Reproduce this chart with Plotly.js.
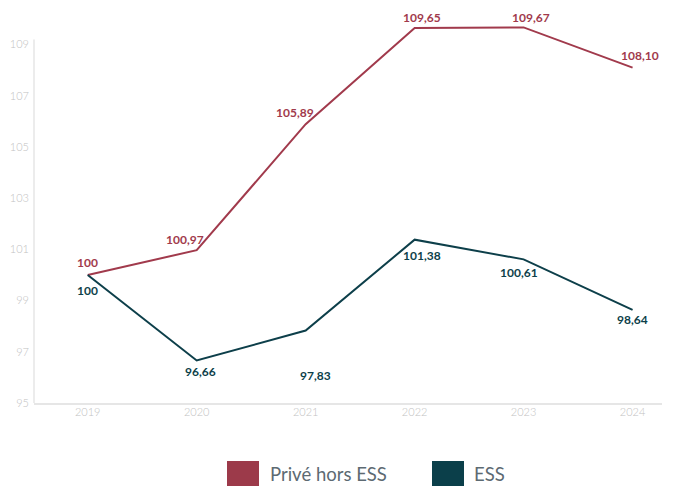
<!DOCTYPE html>
<html>
<head>
<meta charset="utf-8">
<script src="https://cdn.plot.ly/plotly-3.0.1.min.js"></script>
<style>html,body{margin:0;padding:0;background:#fff;}#chart{width:678px;height:486px;}</style>
</head>
<body>
<div id="chart"></div>
<script>
const years = [2019, 2020, 2021, 2022, 2023, 2024];
const prive = [100, 100.97, 105.89, 109.65, 109.67, 108.10];
const ess = [100, 96.66, 97.83, 101.38, 100.61, 98.64];
const seriesNames = ['Privé hors ESS', 'ESS'];
const yTicks = [95, 97, 99, 101, 103, 105, 107, 109];

const RED = '#a13a4c';
const TEAL = '#0d3f4a';

// label offsets (pixels) — styling only
const priveShift = [[0, 12], [-12, 11], [-11, 12], [7, 10], [7, 10], [7, 12]];
const essShift = [[0, -16], [4, -11], [10, -45], [7, -16], [-5, -13], [0, -10]];

function fmt(v) {
  return v === 100 ? '100' : v.toFixed(2).replace('.', ',');
}

const traces = [
  {x: years, y: prive, name: seriesNames[0], type: 'scatter', mode: 'lines',
   line: {color: RED, width: 2}, showlegend: false, hoverinfo: 'x+y'},
  {x: years, y: ess, name: seriesNames[1], type: 'scatter', mode: 'lines',
   line: {color: TEAL, width: 2}, showlegend: false, hoverinfo: 'x+y'}
];

const annotations = [];
years.forEach((yr, i) => {
  annotations.push({x: yr, y: prive[i], xref: 'x', yref: 'y', text: fmt(prive[i]),
    showarrow: false, xshift: priveShift[i][0], yshift: priveShift[i][1],
    font: {family: 'Lato', size: 12, color: RED, weight: 700}});
  annotations.push({x: yr, y: ess[i], xref: 'x', yref: 'y', text: fmt(ess[i]),
    showarrow: false, xshift: essShift[i][0], yshift: essShift[i][1],
    font: {family: 'Lato', size: 12, color: TEAL, weight: 700}});
});

// manual legend
const W = 678, H = 486;
const legendItems = [
  {name: seriesNames[0], color: '#9c3a4a', x0: 227, textX: 268},
  {name: seriesNames[1], color: '#0b3f4a', x0: 432, textX: 472}
];
const shapes = [
  {type: 'line', xref: 'paper', yref: 'y', x0: 0, x1: 0, y0: 95, y1: 109.2,
   line: {color: '#d9d9d9', width: 1}}
];
const plotL = 34, plotR = 16, plotT = 20, plotB = 83;
const pw = W - plotL - plotR, ph = H - plotT - plotB;
function px2paperX(px) { return (px - plotL) / pw; }
function py2paperY(py) { return (H - plotB - py) / ph; }
legendItems.forEach(it => {
  shapes.push({type: 'rect', xref: 'paper', yref: 'paper',
    x0: px2paperX(it.x0), x1: px2paperX(it.x0 + 32),
    y0: py2paperY(486), y1: py2paperY(461),
    fillcolor: it.color, line: {width: 0}});
  annotations.push({xref: 'paper', yref: 'paper', x: px2paperX(it.textX), y: py2paperY(474),
    xanchor: 'left', yanchor: 'middle', showarrow: false, text: it.name,
    font: {family: 'Lato', size: 18.5, color: '#5d6a72'}});
});

const layout = {
  width: W, height: H,
  margin: {l: plotL, r: plotR, t: plotT, b: plotB, pad: 0},
  paper_bgcolor: '#fff', plot_bgcolor: '#fff',
  separators: ',.',
  showlegend: false,
  font: {family: 'Lato', color: '#bdbdbd', size: 11},
  xaxis: {range: [2018.507, 2024.27], tickvals: years, ticktext: years.map(String),
    showgrid: false, zeroline: false, showline: true, linecolor: '#e6e6e6', linewidth: 2,
    ticks: '', ticklabelstandoff: -2,
    tickfont: {family: 'Lato', size: 11, color: '#c2c2c2', weight: 300}},
  yaxis: {range: [95, 109.96], tickvals: yTicks, ticktext: yTicks.map(String),
    showgrid: false, zeroline: false, showline: false, ticks: '',
    ticklabelstandoff: 4,
    tickfont: {family: 'Lato', size: 11, color: '#c2c2c2', weight: 300}},
  annotations: annotations,
  shapes: shapes
};

Plotly.newPlot('chart', traces, layout, {displayModeBar: false, staticPlot: true});
</script>
</body>
</html>
